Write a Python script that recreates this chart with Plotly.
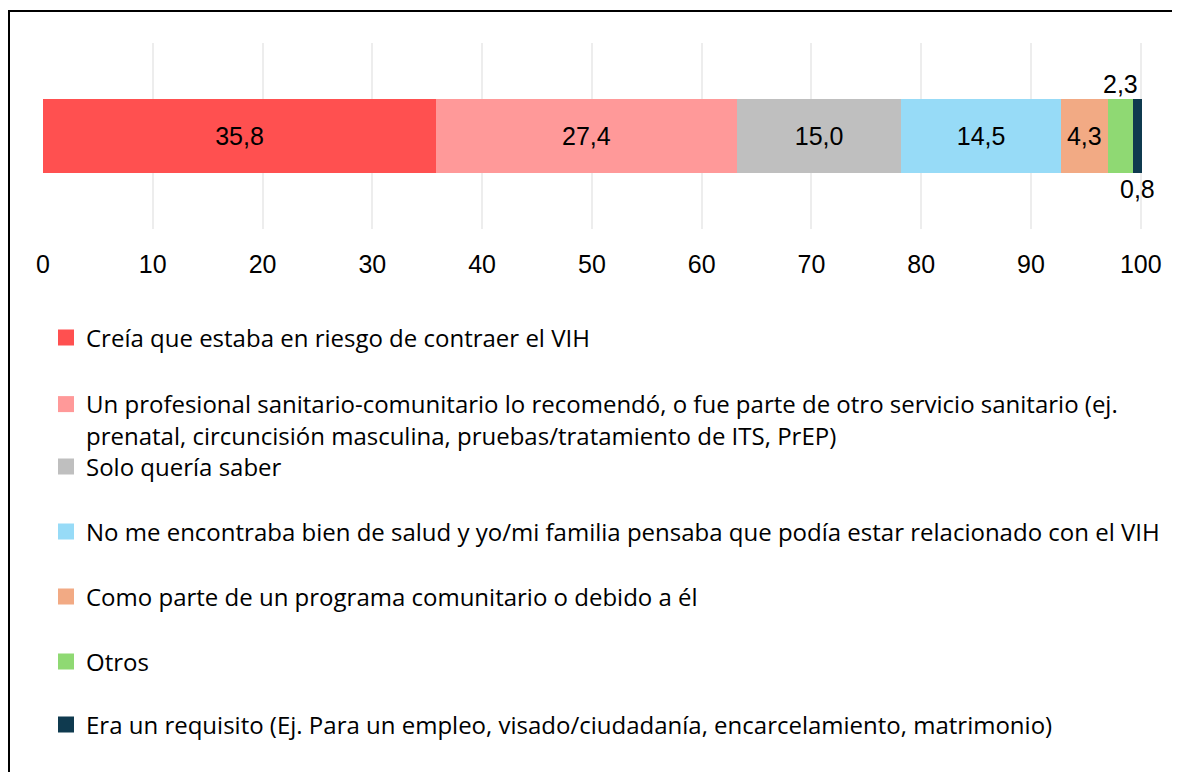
import plotly.graph_objects as go

categories = [
    "Creía que estaba en riesgo de contraer el VIH",
    "Un profesional sanitario-comunitario lo recomendó, o fue parte de otro servicio sanitario (ej.<br>prenatal, circuncisión masculina, pruebas/tratamiento de ITS, PrEP)",
    "Solo quería saber",
    "No me encontraba bien de salud y yo/mi familia pensaba que podía estar relacionado con el VIH",
    "Como parte de un programa comunitario o debido a él",
    "Otros",
    "Era un requisito (Ej. Para un empleo, visado/ciudadanía, encarcelamiento, matrimonio)",
]
values = [35.8, 27.4, 15.0, 14.5, 4.3, 2.3, 0.8]
colors = ["#FF5050", "#FF9999", "#BFBFBF", "#97DBF7", "#F2AA84", "#8FD973", "#0F3A4F"]
x_ticks = [0, 10, 20, 30, 40, 50, 60, 70, 80, 90, 100]
row = ["Total"]

# page has an 8px body margin; figure coordinates = reference pixels - 8
OFF = 8
W, H = 1172, 764
ML, MR, MT, MB = 35, 37, 35, 543
PH = H - MT - MB
PW = W - ML - MR

def ypaper(ypix):
    return (H - MB - (ypix - OFF)) / PH

def xpaper(xpix):
    return ((xpix - OFF) - ML) / PW

def xcont(xpix):
    return (xpix - OFF) / W

def ycont(ypix):
    return 1 - (ypix - OFF) / H

legend_centers = [338, 420, 467, 532, 597, 662, 725]
outside = {5: 52.5, 6: -52.5}

NUM_FONT = "Liberation Sans, Arial, sans-serif"
LEG_FONT = "Open Sans, Liberation Sans, Arial, sans-serif"

fig = go.Figure()
legend_names = ["legend"] + [f"legend{i}" for i in range(2, len(categories) + 1)]
for i, (name, v, c) in enumerate(zip(categories, values, colors)):
    fig.add_trace(go.Bar(
        x=[v], y=row, orientation="h", name=name,
        marker=dict(color=c, line=dict(width=0)),
        text=[f"{v:.1f}".replace(".", ",")] if i not in outside else None,
        textposition="inside" if i not in outside else "none",
        insidetextanchor="middle",
        textfont=dict(family=NUM_FONT, size=25, color="#000000"),
        legendgroup=f"g{i}", showlegend=False,
        hoverinfo="skip",
    ))
# legend entries (square swatches), on a hidden helper axis pair
for i, (name, c) in enumerate(zip(categories, colors)):
    fig.add_trace(go.Scatter(
        x=[None], y=[None], mode="markers", name=name,
        xaxis="x2", yaxis="y2",
        marker=dict(symbol="square", size=16, color=c),
        legendgroup=f"g{i}", legend=legend_names[i], showlegend=True,
        hoverinfo="skip",
    ))

layout_legends = {}
for i, ln in enumerate(legend_names):
    layout_legends[ln] = dict(
        x=xcont(46), y=ycont(legend_centers[i]), xref="container", yref="container",
        xanchor="left", yanchor="middle", valign="top",
        font=dict(family=LEG_FONT, size=24, color="#000000"),
        bgcolor="rgba(0,0,0,0)", borderwidth=0,
    )

annotations = []
base = 0.0
for i, v in enumerate(values):
    if i in outside:
        annotations.append(dict(
            x=base + v / 2, y=row[0], xref="x", yref="y",
            text=f"{v:.1f}".replace(".", ","), showarrow=False,
            yshift=outside[i], xanchor="center", yanchor="middle",
            font=dict(family=NUM_FONT, size=25, color="#000000"),
        ))
    base += v

fig.update_layout(
    width=W, height=H,
    margin=dict(l=ML, r=MR, t=MT, b=MB, autoexpand=False),
    barmode="stack", bargap=0.597,
    paper_bgcolor="#FFFFFF", plot_bgcolor="#FFFFFF",
    showlegend=True,
    annotations=annotations,
    shapes=[dict(type="rect", xref="paper", yref="paper",
                 x0=xpaper(9), y0=ypaper(820), x1=xpaper(1220), y1=ypaper(11),
                 line=dict(color="#000000", width=2), fillcolor="rgba(0,0,0,0)", layer="above")],
    xaxis=dict(type="linear", range=[0, 100.2], tickvals=x_ticks, ticktext=[str(t) for t in x_ticks],
               showgrid=True, gridcolor="#EDEDED", gridwidth=2, zeroline=False,
               showline=False, ticks="outside", ticklen=13, tickcolor="rgba(0,0,0,0)",
               tickfont=dict(family=NUM_FONT, size=25, color="#000000"),
               fixedrange=True),
    yaxis=dict(type="category", range=[-0.5, 0.5], visible=False, fixedrange=True),
    xaxis2=dict(type="linear", range=[0, 1], visible=False, overlaying="x", fixedrange=True),
    yaxis2=dict(type="linear", range=[0, 1], visible=False, overlaying="y", fixedrange=True),
    **layout_legends,
)

fig.write_html("out.html")
